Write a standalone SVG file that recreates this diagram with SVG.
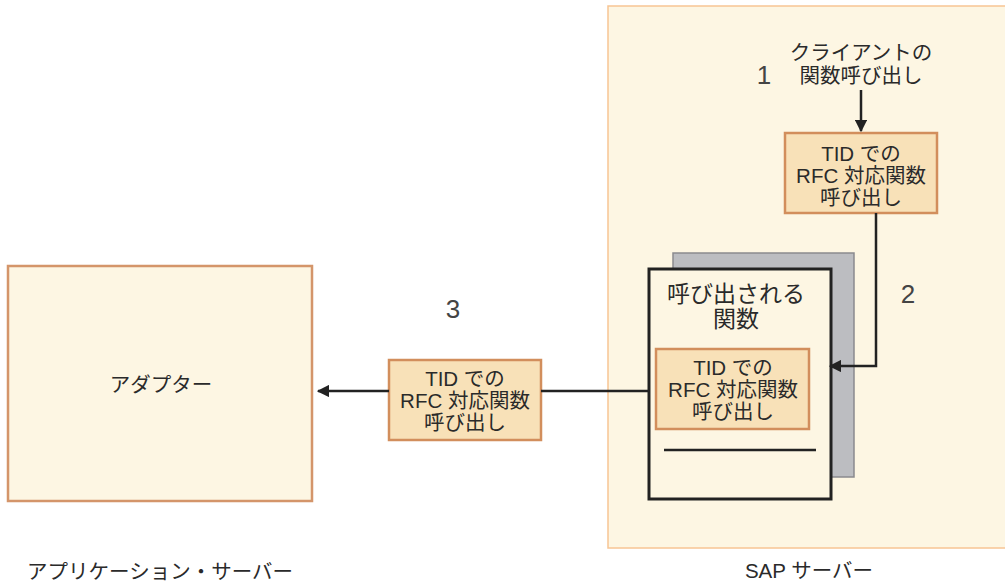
<svg xmlns="http://www.w3.org/2000/svg" width="1005" height="582" viewBox="0 0 1005 582">
<style>
text{font-family:"Liberation Sans","Noto Sans CJK JP",sans-serif;fill:#2a2a2a;text-anchor:middle}
.bx{font-size:20.5px}
.num{font-size:26px;fill:#444}
.cap{font-size:20.5px}
.box{fill:#f8e1b8;stroke:#d28e5c;stroke-width:2.5}
.conn{stroke:#222;stroke-width:2.5;fill:none}
</style>
<defs>
<marker id="ah" viewBox="0 0 10 10" refX="9" refY="5" markerWidth="5" markerHeight="5" orient="auto" markerUnits="strokeWidth">
<path d="M0,0L10,5L0,10z" fill="#222"/>
</marker>
</defs>
<g id="sap-server">
<rect x="608" y="6" width="410" height="542" fill="#fdf6e3" stroke="#f7c594" stroke-width="1.5"/>
<text class="cap" x="809" y="578">SAP サーバー</text>
</g>
<g id="app-server">
<text class="cap" x="160" y="579">アプリケーション・サーバー</text>
</g>
<g id="adapter">
<rect x="8" y="266" width="304" height="235" fill="#fdf6e3" stroke="#d4956a" stroke-width="2.5"/>
<text class="bx" x="161" y="392">アダプター</text>
</g>
<g id="client-call">
<text class="bx" x="861" y="60">クライアントの</text>
<text class="bx" x="861" y="83">関数呼び出し</text>
</g>
<g id="label1"><text class="num" x="764" y="84">1</text></g>
<g id="label2"><text class="num" x="908" y="303">2</text></g>
<g id="label3"><text class="num" x="453" y="318">3</text></g>
<g id="rfc-top">
<rect class="box" x="785" y="133" width="152" height="80"/>
<text class="bx" x="861" y="161">TID での</text>
<text class="bx" x="861" y="183">RFC 対応関数</text>
<text class="bx" x="861" y="205">呼び出し</text>
</g>
<g id="called-function">
<rect x="673" y="253" width="181" height="224" fill="#bcbdc1" stroke="#8a8a8e" stroke-width="1.5"/>
<rect x="649" y="269" width="182" height="230" fill="#fdf6e3" stroke="#222" stroke-width="3"/>
<text x="736" y="302" style="font-size:23px">呼び出される</text>
<text x="736" y="327" style="font-size:23px">関数</text>
<line x1="664" y1="450" x2="816" y2="450" stroke="#222" stroke-width="2.5"/>
</g>
<g id="rfc-inner">
<rect class="box" x="656" y="349" width="153" height="80"/>
<text class="bx" x="733" y="375">TID での</text>
<text class="bx" x="733" y="397">RFC 対応関数</text>
<text class="bx" x="733" y="419">呼び出し</text>
</g>
<g id="rfc-middle">
<rect class="box" x="389" y="360" width="152" height="80"/>
<text class="bx" x="465" y="386">TID での</text>
<text class="bx" x="465" y="408">RFC 対応関数</text>
<text class="bx" x="465" y="430">呼び出し</text>
</g>
<g id="connectors">
<line class="conn" x1="861" y1="90" x2="861" y2="131" marker-end="url(#ah)"/>
<polyline class="conn" points="876,213 876,366 830,366" marker-end="url(#ah)"/>
<line class="conn" x1="649" y1="391" x2="541" y2="391"/>
<line class="conn" x1="389" y1="391" x2="318" y2="391" marker-end="url(#ah)"/>
</g>
</svg>
